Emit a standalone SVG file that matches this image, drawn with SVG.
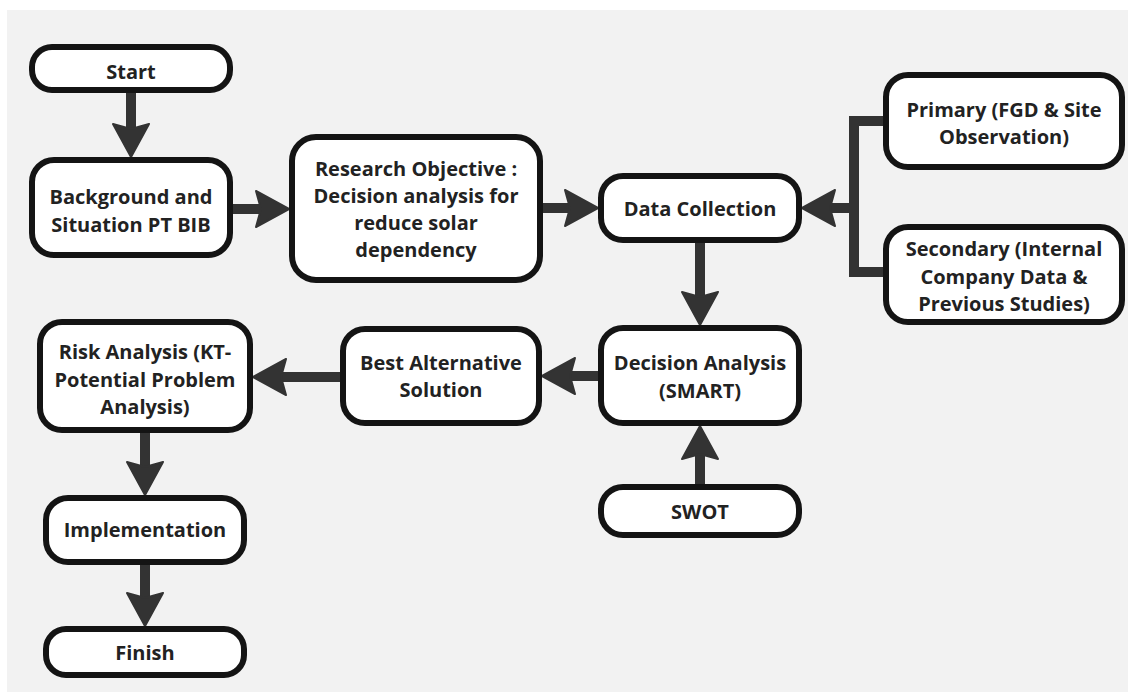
<svg xmlns="http://www.w3.org/2000/svg" width="1128" height="692" viewBox="0 0 1128 692">
<style>
.box{fill:#fff;stroke:#141414;stroke-width:6}
.t{font-family:"Open Sans","Noto Sans","DejaVu Sans",sans-serif;font-weight:700;font-size:20px;fill:#222;text-anchor:middle}
.c{fill:none;stroke:#333;stroke-width:10}
.ca{fill:none;stroke:#333;stroke-width:10;marker-end:url(#ah)}
</style>
<defs>
<marker id="ah" markerUnits="userSpaceOnUse" viewBox="-36 -21 38 42" markerWidth="38" markerHeight="42" refX="-20" refY="0" orient="auto">
<path d="M0,0 L-33,-18 L-28,0 L-33,18 Z" fill="#333" stroke="#333" stroke-width="2" stroke-linejoin="round"/>
</marker>
</defs>
<rect x="0" y="0" width="1128" height="692" fill="#fff"/>
<rect x="7" y="10" width="1121" height="682" fill="#f2f2f2"/>
<g id="connectors">
<line class="ca" x1="131" y1="93" x2="131" y2="137"/>
<line class="ca" x1="233" y1="209" x2="269" y2="209"/>
<line class="ca" x1="543" y1="208" x2="578" y2="208"/>
<path class="c" d="M883,121 H854 V272 H883"/>
<line class="ca" x1="854" y1="208" x2="822" y2="208"/>
<line class="ca" x1="700" y1="243" x2="700" y2="305"/>
<line class="ca" x1="700" y1="484" x2="700" y2="446"/>
<line class="ca" x1="598" y1="376" x2="562" y2="376"/>
<line class="ca" x1="340" y1="377" x2="273" y2="377"/>
<line class="ca" x1="145" y1="433" x2="145" y2="475"/>
<line class="ca" x1="145" y1="565" x2="145" y2="606"/>
</g>
<g id="start">
<rect class="box" x="32" y="47" width="198" height="43" rx="20"/>
<text class="t" x="131" y="79">Start</text>
</g>
<g id="background">
<rect class="box" x="32" y="160" width="198" height="95" rx="22"/>
<text class="t" x="131" y="204">Background and</text>
<text class="t" x="131" y="232">Situation PT BIB</text>
</g>
<g id="research">
<rect class="box" x="292" y="137" width="248" height="143" rx="24"/>
<text class="t" x="416" y="176">Research Objective :</text>
<text class="t" x="416" y="203">Decision analysis for</text>
<text class="t" x="416" y="230">reduce solar</text>
<text class="t" x="416" y="257">dependency</text>
</g>
<g id="data-collection">
<rect class="box" x="601" y="176" width="198" height="64" rx="22"/>
<text class="t" x="700" y="216">Data Collection</text>
</g>
<g id="primary">
<rect class="box" x="886" y="75" width="236" height="92" rx="22"/>
<text class="t" x="1004" y="117">Primary (FGD &amp; Site</text>
<text class="t" x="1004" y="144">Observation)</text>
</g>
<g id="secondary">
<rect class="box" x="886" y="227" width="236" height="95" rx="22"/>
<text class="t" x="1004" y="256">Secondary (Internal</text>
<text class="t" x="1004" y="284">Company Data &amp;</text>
<text class="t" x="1004" y="311">Previous Studies)</text>
</g>
<g id="decision">
<rect class="box" x="601" y="328" width="198" height="95" rx="22"/>
<text class="t" x="700" y="370">Decision Analysis</text>
<text class="t" x="700" y="398">(SMART)</text>
</g>
<g id="swot">
<rect class="box" x="601" y="487" width="198" height="48" rx="22"/>
<text class="t" x="700" y="519">SWOT</text>
</g>
<g id="best-alternative">
<rect class="box" x="343" y="329" width="196" height="94" rx="22"/>
<text class="t" x="441" y="370">Best Alternative</text>
<text class="t" x="441" y="397">Solution</text>
</g>
<g id="risk">
<rect class="box" x="40" y="322" width="210" height="108" rx="22"/>
<text class="t" x="145" y="359">Risk Analysis (KT-</text>
<text class="t" x="145" y="387">Potential Problem</text>
<text class="t" x="145" y="414">Analysis)</text>
</g>
<g id="implementation">
<rect class="box" x="46" y="498" width="198" height="64" rx="22"/>
<text class="t" x="145" y="537">Implementation</text>
</g>
<g id="finish">
<rect class="box" x="46" y="629" width="198" height="46" rx="20"/>
<text class="t" x="145" y="660">Finish</text>
</g>
</svg>
